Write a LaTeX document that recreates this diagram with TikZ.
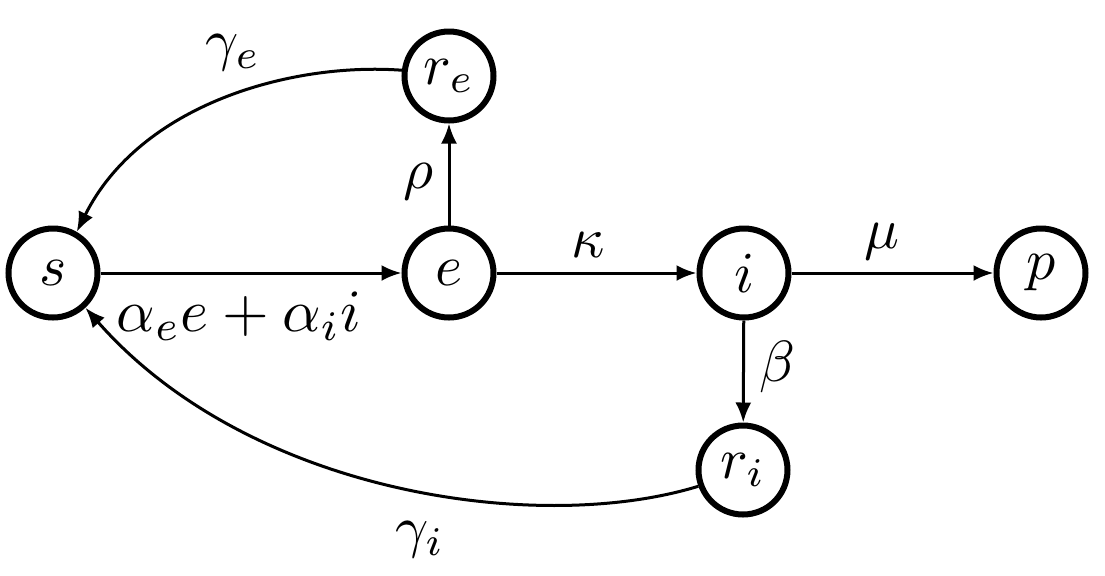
\documentclass[tikz,border=0pt]{standalone}
\usetikzlibrary{arrows.meta}
\newcommand{\mysc}[1]{\scalebox{2.9}{$#1$}}
\begin{document}
\begin{tikzpicture}[x=0.5pt,y=-0.5pt,
  st/.style={circle,draw,line width=3pt,minimum size=44.5pt,inner sep=0pt},
  arr/.style={-{Latex[length=10pt,width=8pt]},line width=1.5pt},
  lab/.style={inner sep=0pt}]
\useasboundingbox (0,0) rectangle (1105,575);
\node[st] (s) at (53,273) {\mysc{s}};
\node[st] (e) at (449,273) {\mysc{e}};
\node[st] (i) at (744,273) {\mysc{i}};
\node[st] (p) at (1041,273) {\mysc{p}};
\node[st] (re) at (449,76) {\mysc{r_e}};
\node[st] (ri) at (743,470) {\mysc{r_i}};
\draw[arr] (s) -- (e);
\draw[arr] (e) -- (i);
\draw[arr] (i) -- (p);
\draw[arr] (e) -- (re);
\draw[arr] (i) -- (ri);
\draw[arr] (re.173) .. controls (290,62) and (140,105) .. (s.60);
\draw[arr] (ri.200) .. controls (540,535) and (250,495) .. (s.-47);
\node[lab] (ge) at (233,53) {\mysc{\gamma_e}};
\node[lab] (rho) at (418,182) {\mysc{\rho}};
\node[lab] (al) at (239,316) {\scalebox{3.0}{$\alpha_e e+\alpha_i i$}};
\node[lab] (ka) at (588,245) {\mysc{\kappa}};
\node[lab] (mu) at (882,242) {\mysc{\mu}};
\node[lab] (be) at (777,367) {\mysc{\beta}};
\node[lab] (gi) at (420,540) {\mysc{\gamma_i}};
\end{tikzpicture}
\end{document}
